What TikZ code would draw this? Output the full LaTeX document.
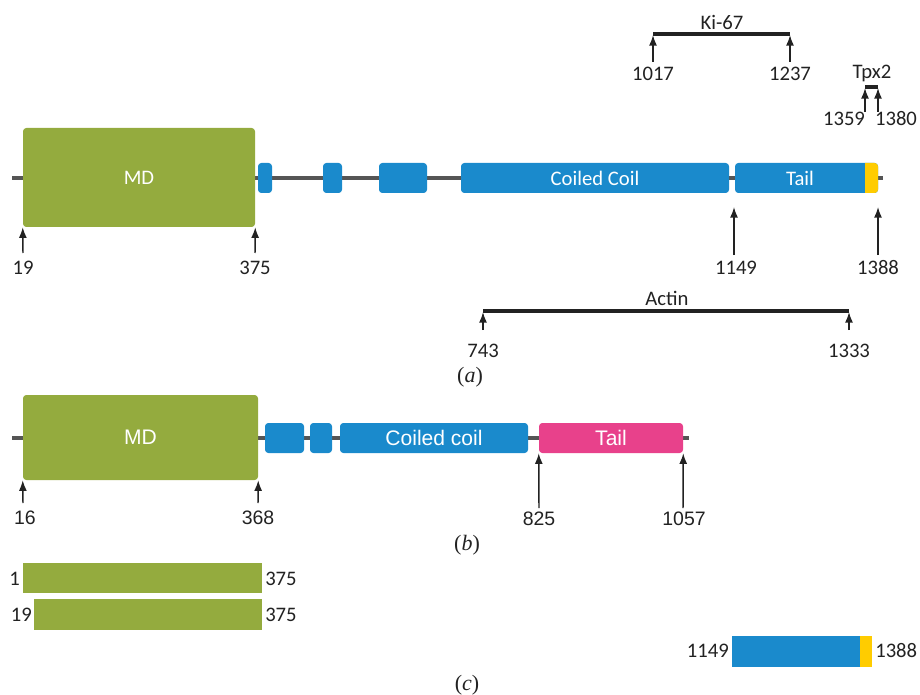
\documentclass[tikz,border=0pt]{standalone}
\usepackage{fontspec}
\setmainfont{Carlito}
\newfontfamily\arialf{Liberation Sans}
\newfontfamily\timesf{Liberation Serif}
\usetikzlibrary{arrows.meta,fit}
\definecolor{mdgreen}{HTML}{94AB3E}
\definecolor{ccblue}{HTML}{1A8ACC}
\definecolor{tailpink}{HTML}{E8418B}
\definecolor{tyellow}{HTML}{FFCC00}
\definecolor{bbgray}{HTML}{555555}
\definecolor{txt}{HTML}{222222}
\begin{document}
\begin{tikzpicture}[x=0.75pt,y=-0.75pt,
  box/.style={draw=none, inner sep=0pt, rounded corners=2.5pt},
  mdbox/.style={box, fill=mdgreen},
  ccbox/.style={box, fill=ccblue},
  pkbox/.style={box, fill=tailpink},
  flatg/.style={draw=none, inner sep=0pt, fill=mdgreen},
  backbone/.style={bbgray, line width=2.6pt},
  pin/.style={-{Latex[length=8pt,width=6pt]}, line width=1.1pt, txt},
  bar/.style={line width=2.6pt, txt},
  cfont/.style={font=\fontsize{15.5}{18}\selectfont},
  afont/.style={font=\arialf\fontsize{14.6}{17}\selectfont},
  aboxfont/.style={font=\arialf\fontsize{15.8}{18}\selectfont},
  intxt/.style={inner sep=0pt, text=white},
  num/.style={cfont, inner sep=0pt, text=txt},
  numb/.style={afont, inner sep=0pt, text=txt},
  capt/.style={font=\timesf\fontsize{16.5}{19}\selectfont, inner sep=0pt, text=txt}
]
\useasboundingbox (0,0) rectangle (920,695);

% ---------------- (a) ----------------
\coordinate (bbAL) at (12,178);
\coordinate (bbAR) at (883,178);
\draw[backbone] (bbAL) -- (bbAR);
\node[mdbox, fit={(23,128)(255,227)}] (mdA) {};
\node[ccbox, fit={(258,163)(272,193)}] (a1) {};
\node[ccbox, fit={(323,163)(342,193)}] (a2) {};
\node[ccbox, fit={(379,163)(427,193)}] (a3) {};
\node[ccbox, fit={(461,163)(729,193)}] (ccA) {};
\node[ccbox, fit={(735,163)(878,193)}] (tailA) {};
\fill[tyellow] (865,163) [rounded corners=2.5pt] -- (878,163) -- (878,193) [sharp corners] -- (865,193) -- cycle;
\node[intxt, cfont] (mdAt) at (mdA.center) {MD};
\node[intxt, cfont] (ccAt) at (ccA.center) {Coiled Coil};
\node[intxt, cfont] (tailAt) at (800,178) {Tail};

\coordinate (p19) at (23,253);
\coordinate (p375) at (255,253);
\coordinate (p1149) at (734,255);
\coordinate (h1149) at (734,207);
\coordinate (p1388) at (878,255);
\coordinate (h1388) at (878,207);
\draw[pin] (p19) -- (mdA.south west);
\draw[pin] (p375) -- (mdA.south east);
\draw[pin] (p1149) -- (h1149);
\draw[pin] (p1388) -- (h1388);
\node[num] (l19) at (23,268) {19};
\node[num] (l375) at (255,268) {375};
\node[num] (l1149) at (736,268) {1149};
\node[num] (l1388) at (878,268) {1388};

% Ki-67
\coordinate (kL) at (653,34);
\coordinate (kR) at (790,34);
\draw[bar] (kL) -- (kR);
\node[num] (ki) at (722,22) {Ki-67};
\coordinate (k1t) at (653,62);
\coordinate (k2t) at (790,62);
\draw[pin] (k1t) -- (653,35);
\draw[pin] (k2t) -- (790,35);
\node[num] (l1017) at (653,74) {1017};
\node[num] (l1237) at (790,74) {1237};

% Tpx2
\coordinate (tL) at (865,87);
\coordinate (tR) at (878,87);
\draw[bar] (tL) -- (tR);
\node[num] (tpx) at (872,73) {Tpx2};
\coordinate (t1t) at (865,112);
\coordinate (t2t) at (878,112);
\draw[pin] (t1t) -- (865,88);
\draw[pin] (t2t) -- (878,88);
\node[num] (l1359) at (844,119) {1359};
\node[num] (l1380) at (896,119) {1380};

% Actin
\coordinate (acL) at (483,311);
\coordinate (acR) at (849,311);
\draw[bar] (acL) -- (acR);
\node[num] (actin) at (667,298) {Actin};
\coordinate (ac1t) at (483,330);
\coordinate (ac2t) at (849,330);
\draw[pin] (ac1t) -- (483,312);
\draw[pin] (ac2t) -- (849,312);
\node[num] (l743) at (483,351) {743};
\node[num] (l1333) at (849,351) {1333};

\node[capt] (capA) at (470,377) {(\textit{a})};

% ---------------- (b) ----------------
\coordinate (bbBL) at (12,438);
\coordinate (bbBR) at (689,438);
\draw[backbone] (bbBL) -- (bbBR);
\node[mdbox, fit={(23,395)(258,480)}] (mdB) {};
\node[ccbox, fit={(265,423)(304,453)}] (b1) {};
\node[ccbox, fit={(310,423)(332,453)}] (b2) {};
\node[ccbox, fit={(340,423)(528,453)}] (ccB) {};
\node[pkbox, fit={(539,423)(683,453)}] (tailB) {};
\node[intxt, aboxfont] (mdBt) at (mdB.center) {MD};
\node[intxt, aboxfont] (ccBt) at (ccB.center) {Coiled coil};
\node[intxt, aboxfont] (tailBt) at (tailB.center) {Tail};

\coordinate (p16) at (23,503);
\coordinate (p368) at (258,503);
\coordinate (p825) at (539,508);
\coordinate (p1057) at (683,508);
\draw[pin] (p16) -- (mdB.south west);
\draw[pin] (p368) -- (mdB.south east);
\draw[pin] (p825) -- (tailB.south west);
\draw[pin] (p1057) -- (tailB.south east);
\node[numb] (l16) at (25,518) {16};
\node[numb] (l368) at (258,518) {368};
\node[numb] (l825) at (539,519) {825};
\node[numb] (l1057) at (684,519) {1057};

\node[capt] (capB) at (467,545) {(\textit{b})};

% ---------------- (c) ----------------
\node[flatg, fit={(23,563)(262,593)}] (c1) {};
\node[num, anchor=east] (c1l) at (20,579) {1};
\node[num, anchor=west] (c1r) at (265,579) {375};
\node[flatg, fit={(34,599)(262,630)}] (c2) {};
\node[num, anchor=east] (c2l) at (32,615) {19};
\node[num, anchor=west] (c2r) at (265,615) {375};

\node[draw=none, inner sep=0pt, fill=ccblue, fit={(732,636)(860,667)}] (c3) {};
\node[draw=none, inner sep=0pt, fill=tyellow, fit={(860,636)(872,667)}] (c3y) {};
\node[num, anchor=east] (c3l) at (729,651) {1149};
\node[num, anchor=west] (c3r) at (875,651) {1388};

\node[capt] (capC) at (467,685) {(\textit{c})};
\end{tikzpicture}
\end{document}
